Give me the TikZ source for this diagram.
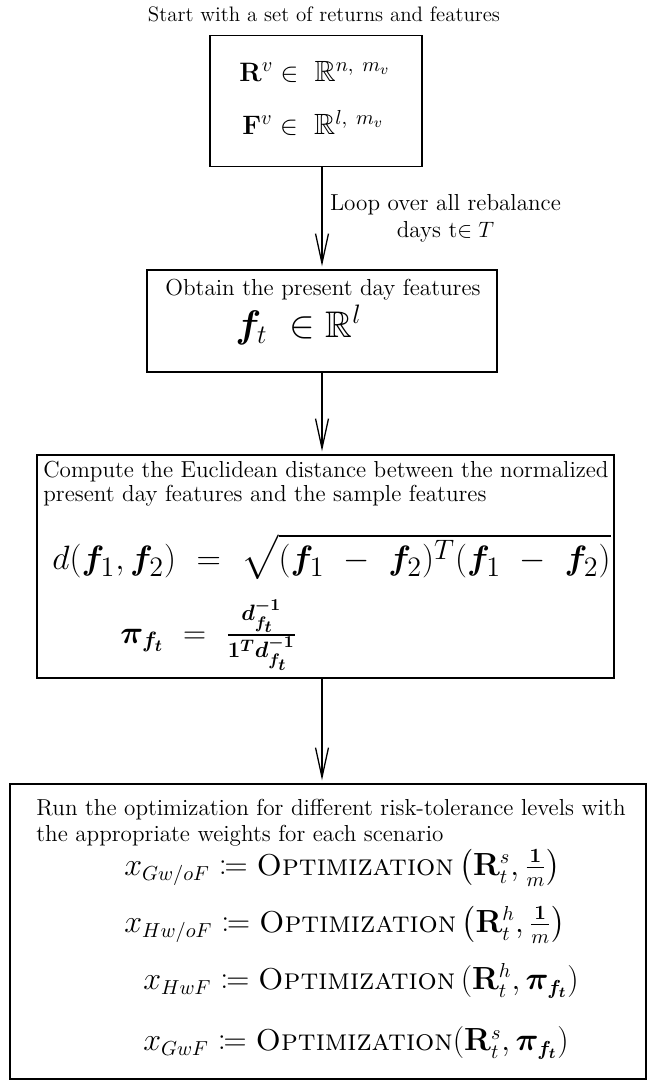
\documentclass[tikz,border=0pt]{standalone}
\usepackage{amsmath,amssymb,bm,mathtools}
\usetikzlibrary{arrows.meta}
\begin{document}
\begin{tikzpicture}[x=0.54pt,y=-0.54pt,
  box/.style={draw, line width=1pt, inner sep=0pt},
  txt/.style={inner sep=0pt, font=\fontsize{12.5}{14.8}\selectfont},
  flow/.style={line width=0.7pt, -{Straight Barb[length=16pt,width=7pt,line width=0.7pt]}, shorten >=1.5pt}]
\useasboundingbox (0,0) rectangle (648,1081);
% title
\node[txt, font=\fontsize{11.3}{13}\selectfont] (title) at (324,14) {Start with a set of returns and features};
% boxes
\node[box, minimum width=0.54*212pt, minimum height=0.54*131pt] (b1) at (316,101) {};
\node[box, minimum width=0.54*350pt, minimum height=0.54*102pt] (b2) at (322,321) {};
\node[box, minimum width=0.54*577pt, minimum height=0.54*223pt] (b3) at (325.5,566.5) {};
\node[box, minimum width=0.54*636pt, minimum height=0.54*295pt] (b4) at (328,931.5) {};
% box 1
\node[txt, anchor=west, font=\fontsize{15.8}{19}\selectfont] (r1) at (239,72) {$\mathbf{R}^{v} \in\ \mathbb{R}^{n,\ m_v}$};
\node[txt, anchor=west, font=\fontsize{15.8}{19}\selectfont] (r2) at (242,123) {$\mathbf{F}^{v} \in\ \mathbb{R}^{l,\ m_v}$};
% box 2
\node[txt] (o1) at (323,290) {Obtain the present day features};
\node[txt, anchor=west, font=\fontsize{20}{24}\selectfont] (o2) at (235,325) {$\bm{f}_t\ \in \mathbb{R}^{l}$};
% box 3
\node[txt, anchor=west] (c1) at (43,472) {Compute the Euclidean distance between the normalized};
\node[txt, anchor=west] (c2) at (43,496) {present day features and the sample features};
\node[txt, anchor=west, font=\fontsize{19}{23}\selectfont] (c3) at (52,557) {\scalebox{1.055}{$d(\bm{f}_1,\bm{f}_2)\ =\ \sqrt{(\bm{f}_1\ -\ \bm{f}_2)^T(\bm{f}_1\ -\ \bm{f}_2)}$}};
\node[txt, anchor=west, font=\fontsize{18.8}{23}\selectfont] (c4) at (120,635) {$\bm{\pi}_{\bm{f_t}}\ =\ \frac{\bm{d_{f_t}^{-1}}}{\bm{1^T d_{f_t}^{-1}}}$};
% box 4
\node[txt, anchor=west] (p1) at (36,810) {Run the optimization for different risk-tolerance levels with};
\node[txt, anchor=west] (p2) at (36,836) {the appropriate weights for each scenario};
\node[txt, anchor=west, font=\fontsize{16.3}{19}\selectfont] (e1) at (124,868) {$x_{Gw/oF} \coloneqq \textsc{Optimization}\left(\mathbf{R}^s_t, \frac{\mathbf{1}}{m}\right)$};
\node[txt, anchor=west, font=\fontsize{16.3}{19}\selectfont] (e2) at (124,925) {$x_{Hw/oF} \coloneqq \textsc{Optimization}\left(\mathbf{R}^h_t, \frac{\mathbf{1}}{m}\right)$};
\node[txt, anchor=west, font=\fontsize{16.3}{19}\selectfont] (e3) at (143,981) {$x_{HwF} \coloneqq \textsc{Optimization}\left(\mathbf{R}^h_t, \bm{\pi}_{\bm{f_t}}\right)$};
\node[txt, anchor=west, font=\fontsize{16.3}{19}\selectfont] (e4) at (143,1043) {$x_{GwF} \coloneqq \textsc{Optimization}(\mathbf{R}^s_t, \bm{\pi}_{\bm{f_t}})$};
% arrows
\draw[flow] (b1.south -| b2.north) -- node[right, txt, align=center, xshift=4pt] (lbl) {Loop over all rebalance\\ days t$\in T$} (b2.north);
\draw[flow] (b2.south) -- (b3.north -| b2.south);
\draw[flow] (b3.south -| b2.south) -- (b4.north -| b2.south);
\end{tikzpicture}
\end{document}
